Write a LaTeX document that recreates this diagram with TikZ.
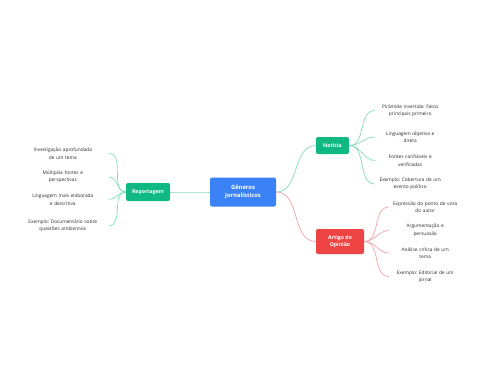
\documentclass[tikz,border=0pt]{standalone}
\usepackage{fontspec}
\setmainfont{Open Sans}
\frenchspacing
\usetikzlibrary{positioning}
\definecolor{rootblue}{HTML}{3B82F6}
\definecolor{newsgreen}{HTML}{10B981}
\definecolor{opinred}{HTML}{EF4444}
\definecolor{greenline}{HTML}{86DDB8}
\definecolor{redline}{HTML}{F5A3AB}
\definecolor{leaftext}{HTML}{2B2B2B}

\begin{document}
\begin{tikzpicture}[x=1pt,y=-1pt,
  topic/.style={rounded corners=2pt,text=white,inner sep=0pt,align=center,font=\fontsize{5.2}{7.4}\selectfont\bfseries},
  leaf/.style={text=leaftext,inner sep=0pt,align=center,font=\fontsize{4.8}{7.4}\selectfont},
  gline/.style={greenline,line width=0.7pt},
  rline/.style={redline,line width=0.7pt}]
  \useasboundingbox[fill=white] (0,0) rectangle (480,384);

  % Central topic
  \node[topic,fill=rootblue,minimum width=66pt,minimum height=29pt,font=\fontsize{5.8}{7.8}\selectfont\bfseries] (root) at (243,192) {Gêneros\\Jornalísticos};

  % Main branches
  \node[topic,fill=newsgreen,minimum width=33pt,minimum height=17pt] (noticia) at (332.5,145.5) {Notícia};
  \node[topic,fill=opinred,minimum width=48pt,minimum height=25pt] (opiniao) at (340,241.5) {Artigo de\\Opinião};
  \node[topic,fill=newsgreen,minimum width=44pt,minimum height=18pt] (reportagem) at (148,192) {Reportagem};

  \draw[gline] (root.east) to[out=0,in=180] (noticia.west);
  \draw[rline] (root.east) to[out=0,in=180] (opiniao.west);
  \draw[gline] (root.west) to[out=180,in=0] (reportagem.east);

  % Notícia leaves
  \node[leaf,text width=70pt,anchor=west] (n1) at (375,110.5) {Pirâmide invertida: Fatos\\principais primeiro};
  \node[leaf,text width=70pt,anchor=west] (n2) at (375,137) {Linguagem objetiva e\\direta};
  \node[leaf,text width=70pt,anchor=west] (n3) at (375,160.5) {Fontes confiáveis e\\verificadas};
  \node[leaf,text width=70pt,anchor=west] (n4) at (375,184) {Exemplo: Cobertura de um\\evento político};
  \foreach \n in {n1,n2,n3,n4}
    \draw[gline] (noticia.east) to[out=0,in=180] (\n.west);

  % Artigo de Opinião leaves
  \node[leaf,text width=72pt,anchor=west] (o1) at (389,207) {Expressão do ponto de vista\\do autor};
  \node[leaf,text width=72pt,anchor=west] (o2) at (389,230.5) {Argumentação e\\persuasão};
  \node[leaf,text width=72pt,anchor=west] (o3) at (389,253) {Análise crítica de um\\tema};
  \node[leaf,text width=72pt,anchor=west] (o4) at (389,276.5) {Exemplo: Editorial de um\\jornal};
  \foreach \n in {o1,o2,o3,o4}
    \draw[rline] (opiniao.east) to[out=0,in=180] (\n.west);

  % Reportagem leaves
  \node[leaf,text width=92pt,anchor=east] (r1) at (109,153.5) {Investigação aprofundada\\de um tema};
  \node[leaf,text width=92pt,anchor=east] (r2) at (109,177) {Múltiplas fontes e\\perspectivas};
  \node[leaf,text width=92pt,anchor=east] (r3) at (109,199.5) {Linguagem mais elaborada\\e descritiva};
  \node[leaf,text width=92pt,anchor=east] (r4) at (109,225.5) {Exemplo: Documentário sobre\\questões ambientais};
  \foreach \n in {r1,r2,r3,r4}
    \draw[gline] (reportagem.west) to[out=180,in=0] (\n.east);
\end{tikzpicture}
\end{document}
